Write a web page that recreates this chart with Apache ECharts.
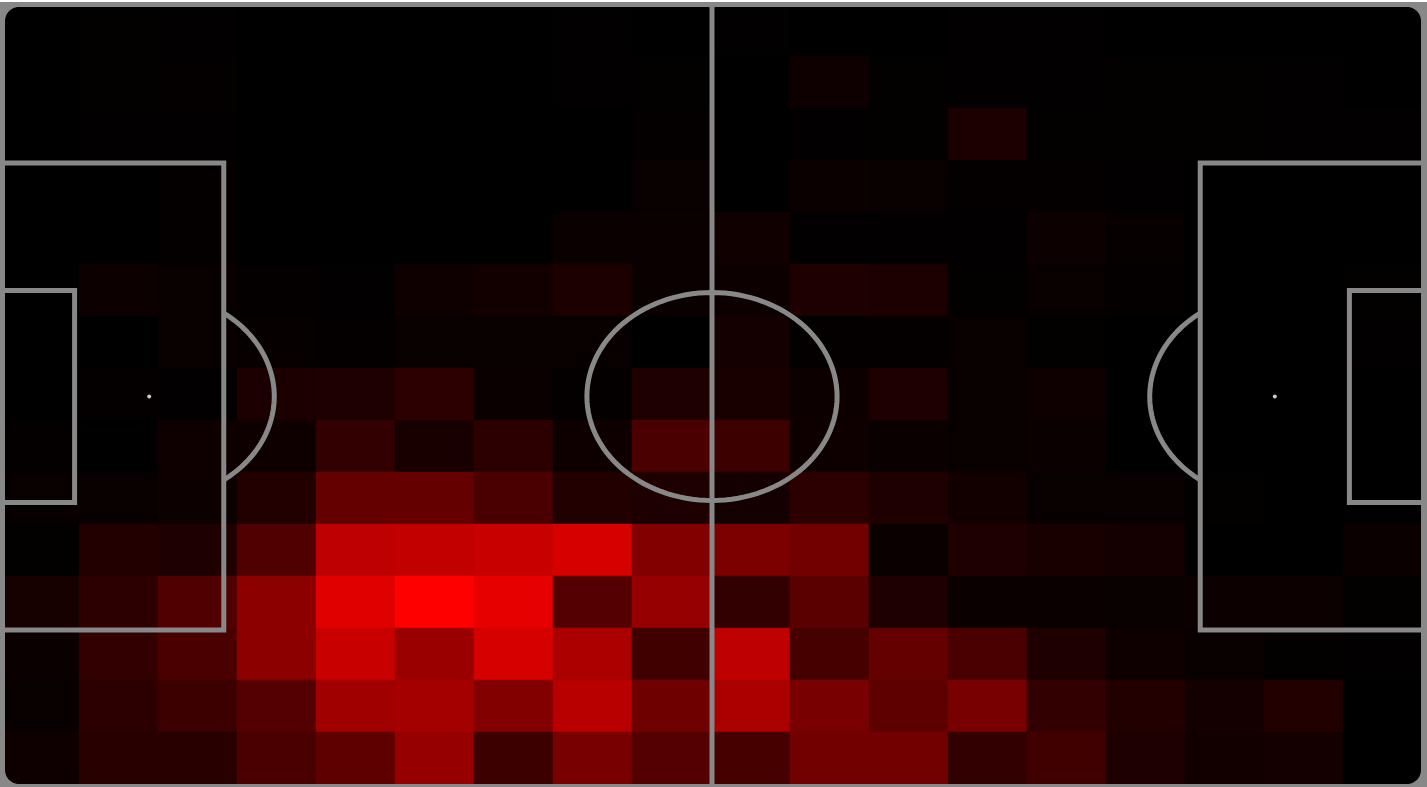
<!DOCTYPE html>
<html>
<head>
<meta charset="utf-8">
<title>Pitch heatmap</title>
<script src="https://cdn.jsdelivr.net/npm/echarts@6/dist/echarts.min.js"></script>
<style>
  html, body { margin: 0; padding: 0; background: #fff; }
  #main { width: 1427px; height: 787px; }
</style>
</head>
<body>
<div id="main"></div>
<script>
// 18 x 15 zones over the pitch, top row first
var zoneCols = ['1','2','3','4','5','6','7','8','9','10','11','12','13','14','15','16','17','18'];
var zoneRows = ['1','2','3','4','5','6','7','8','9','10','11','12','13','14','15'];

var row01 = [0, 3, 2, 0, 0, 0, 0, 2, 0, 2, 0, 0, 2, 2, 0, 0, 0, 0];
var row02 = [0, 3, 4, 0, 0, 0, 0, 2, 3, 0, 14, 3, 2, 2, 3, 3, 2, 0];
var row03 = [0, 2, 2, 0, 0, 0, 0, 0, 4, 0, 2, 3, 26, 3, 3, 3, 2, 2];
var row04 = [0, 0, 4, 0, 0, 0, 0, 0, 8, 0, 10, 8, 4, 5, 2, 0, 0, 0];
var row05 = [0, 0, 5, 0, 0, 0, 0, 10, 10, 16, 2, 2, 2, 12, 6, 0, 0, 0];
var row06 = [0, 12, 8, 4, 2, 15, 18, 28, 10, 12, 30, 28, 3, 8, 4, 0, 0, 3];
var row07 = [0, 0, 8, 6, 5, 8, 8, 8, 0, 20, 5, 5, 8, 3, 0, 0, 0, 2];
var row08 = [0, 5, 2, 28, 30, 45, 10, 5, 30, 25, 12, 30, 8, 15, 0, 0, 0, 0];
var row09 = [5, 0, 15, 15, 50, 25, 45, 15, 75, 60, 15, 10, 8, 10, 0, 0, 0, 0];
var row10 = [8, 8, 12, 35, 100, 100, 75, 35, 30, 20, 45, 30, 18, 8, 8, 3, 0, 0];
var row11 = [3, 35, 30, 80, 190, 195, 200, 215, 130, 125, 115, 10, 30, 25, 20, 0, 0, 10];
var row12 = [22, 45, 80, 140, 225, 255, 230, 85, 150, 50, 90, 30, 10, 10, 8, 12, 12, 3];
var row13 = [10, 50, 75, 140, 200, 155, 215, 170, 65, 190, 70, 100, 75, 30, 15, 8, 3, 2];
var row14 = [8, 45, 60, 85, 160, 165, 130, 185, 110, 170, 120, 95, 120, 50, 35, 20, 35, 0];
var row15 = [15, 40, 40, 75, 95, 150, 60, 120, 85, 70, 115, 115, 50, 65, 30, 18, 20, 0];

var rows = [row01, row02, row03, row04, row05, row06, row07, row08,
            row09, row10, row11, row12, row13, row14, row15];

var cells = [];
rows.forEach(function (row, r) {
  row.forEach(function (v, c) { cells.push([c, r, v]); });
});

// pitch markings (metres -> pixels)
var W = 1427, H = 787;
var LINE = '#888';
var LW = 5;
function px(m) { return m * 1424 / 105; }
function py(m) { return 396.5 + (m - 34) * 11.58; }
var RX = px(9.15) + 1, RY = 9.15 * 11.58 - 2;

function ellipsePoints(cx, cy, a0, a1, n) {
  var pts = [];
  for (var i = 0; i <= n; i++) {
    var a = a0 + (a1 - a0) * i / n;
    pts.push([cx + RX * Math.cos(a), cy + RY * Math.sin(a)]);
  }
  return pts;
}

function arcPoints(cxm, side) {
  var edge = side > 0 ? px(16.5) : px(105 - 16.5);
  var cx = px(cxm);
  var t = Math.acos(Math.abs(edge - cx) / RX);
  var a0 = side > 0 ? -t : Math.PI - t;
  return ellipsePoints(cx, py(34), a0, a0 + 2 * t, 60);
}

// gray fill in the square corners outside the rounded inner edge
function cornerPoints(x, y, sx, sy) {
  var rr = 14;
  var pts = [[x, y]];
  for (var i = 0; i <= 12; i++) {
    var a = Math.PI / 2 * i / 12;
    pts.push([x + sx * (rr - rr * Math.cos(a)), y + sy * (rr - rr * Math.sin(a))]);
  }
  return pts;
}

var lineStyle = { stroke: LINE, lineWidth: LW, fill: null };
var fillStyle = { fill: LINE };
var graphics = [
  // outer frame
  { type: 'rect', z: 100, shape: { x: 0, y: 2, width: W, height: 5 }, style: fillStyle },
  { type: 'rect', z: 100, shape: { x: 0, y: 784, width: W, height: 3 }, style: fillStyle },
  { type: 'rect', z: 100, shape: { x: 0, y: 2, width: 5, height: 785 }, style: fillStyle },
  { type: 'rect', z: 100, shape: { x: 1421, y: 2, width: 6, height: 785 }, style: fillStyle },
  { type: 'polygon', z: 100, shape: { points: cornerPoints(5, 7, 1, 1) }, style: fillStyle },
  { type: 'polygon', z: 100, shape: { points: cornerPoints(1421, 7, -1, 1) }, style: fillStyle },
  { type: 'polygon', z: 100, shape: { points: cornerPoints(5, 784, 1, -1) }, style: fillStyle },
  { type: 'polygon', z: 100, shape: { points: cornerPoints(1421, 784, -1, -1) }, style: fillStyle },
  // halfway line and centre circle
  { type: 'line', z: 100, shape: { x1: px(52.5), y1: 5, x2: px(52.5), y2: 784 }, style: lineStyle },
  { type: 'polygon', z: 100, shape: { points: ellipsePoints(px(52.5), py(34), 0, 2 * Math.PI, 120) }, style: lineStyle },
  // left boxes
  { type: 'polyline', z: 100, shape: { points: [[3, py(13.84)], [px(16.5), py(13.84)], [px(16.5), py(54.16)], [3, py(54.16)]] }, style: lineStyle },
  { type: 'polyline', z: 100, shape: { points: [[3, py(24.84)], [px(5.5), py(24.84)], [px(5.5), py(43.16)], [3, py(43.16)]] }, style: lineStyle },
  { type: 'polyline', z: 100, shape: { points: arcPoints(11, 1) }, style: lineStyle },
  { type: 'circle', z: 100, shape: { cx: px(11), cy: py(34), r: 2 }, style: { fill: '#ccc' } },
  // right boxes
  { type: 'polyline', z: 100, shape: { points: [[1424, py(13.84)], [px(88.5), py(13.84)], [px(88.5), py(54.16)], [1424, py(54.16)]] }, style: lineStyle },
  { type: 'polyline', z: 100, shape: { points: [[1424, py(24.84)], [px(99.5), py(24.84)], [px(99.5), py(43.16)], [1424, py(43.16)]] }, style: lineStyle },
  { type: 'polyline', z: 100, shape: { points: arcPoints(94, -1) }, style: lineStyle },
  { type: 'circle', z: 100, shape: { cx: px(94), cy: py(34), r: 2 }, style: { fill: '#ccc' } }
];

var chart = echarts.init(document.getElementById('main'));

chart.setOption({
  backgroundColor: '#fff',
  animation: false,
  // whole-pixel cells (79 x 52) so no seams show between zones
  grid: { left: 0, top: 4, width: 1422, height: 780, containLabel: false },
  xAxis: { type: 'category', data: zoneCols, show: false, boundaryGap: true },
  yAxis: { type: 'category', data: zoneRows, show: false, inverse: true, boundaryGap: true },
  visualMap: {
    show: false,
    type: 'continuous',
    min: 0,
    max: 255,
    inRange: { color: ['#000000', '#ff0000'] }
  },
  series: [{
    type: 'heatmap',
    data: cells,
    itemStyle: { borderWidth: 0 },
    emphasis: { disabled: true }
  }],
  graphic: graphics
});
</script>
</body>
</html>
